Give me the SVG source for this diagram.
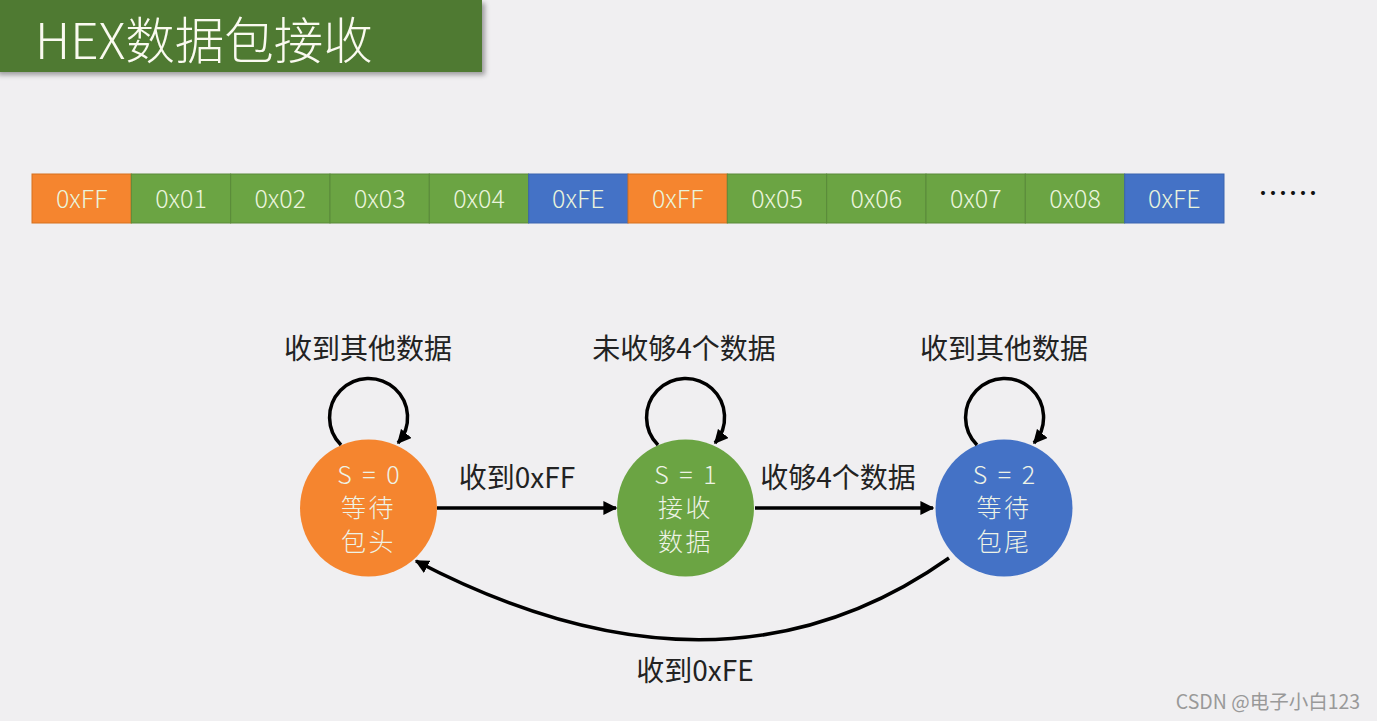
<svg xmlns="http://www.w3.org/2000/svg" width="1377" height="721" viewBox="0 0 1377 721">
<defs>
<style>
.cjk{font-family:"Noto Sans CJK SC","Noto Sans",sans-serif;}
.cell{stroke:#5a8a3a;stroke-width:1}
.ct{font-size:25px;font-weight:300;fill:#EAF4DC;text-anchor:middle;}
.st{font-size:25px;font-weight:300;fill:#EEF3E6;text-anchor:middle;}
.lb{font-size:28px;fill:#222;text-anchor:middle;}
.edge{fill:none;stroke:#000;stroke-width:3.5}
</style>
<marker id="ah" viewBox="0 0 10 10" refX="9" refY="5" markerWidth="4" markerHeight="4" orient="auto" markerUnits="strokeWidth">
<path d="M0,0 L10,5 L0,10 z" fill="#000"/>
</marker>
<filter id="sh" x="-5%" y="-10%" width="115%" height="130%">
<feDropShadow dx="3" dy="3" stdDeviation="2.5" flood-color="#000" flood-opacity="0.35"/>
</filter>
</defs>
<rect width="1377" height="721" fill="#F0EFF1"/>

<g id="title">
<rect x="-5" y="0" width="487" height="72" fill="#507A33" filter="url(#sh)"/>
<text x="35" y="59" class="cjk" font-size="49.5" font-weight="300" fill="#FAFAF0">HEX数据包接收</text>
</g>

<g id="bytes" class="cjk">
<rect x="32" y="174" width="99.3" height="49" fill="#F5852F" stroke="#D6701F"/>
<rect x="131.3" y="174" width="99.3" height="49" fill="#6BA443" class="cell"/>
<rect x="230.7" y="174" width="99.3" height="49" fill="#6BA443" class="cell"/>
<rect x="330" y="174" width="99.3" height="49" fill="#6BA443" class="cell"/>
<rect x="429.3" y="174" width="99.3" height="49" fill="#6BA443" class="cell"/>
<rect x="528.7" y="174" width="99.3" height="49" fill="#4472C6" stroke="#3A64B0"/>
<rect x="628" y="174" width="99.3" height="49" fill="#F5852F" stroke="#D6701F"/>
<rect x="727.3" y="174" width="99.3" height="49" fill="#6BA443" class="cell"/>
<rect x="826.7" y="174" width="99.3" height="49" fill="#6BA443" class="cell"/>
<rect x="926" y="174" width="99.3" height="49" fill="#6BA443" class="cell"/>
<rect x="1025.3" y="174" width="99.3" height="49" fill="#6BA443" class="cell"/>
<rect x="1124.7" y="174" width="99.3" height="49" fill="#4472C6" stroke="#3A64B0"/>
<text x="81.7" y="207.5" class="ct">0xFF</text>
<text x="181" y="207.5" class="ct">0x01</text>
<text x="280.3" y="207.5" class="ct">0x02</text>
<text x="379.7" y="207.5" class="ct">0x03</text>
<text x="479" y="207.5" class="ct">0x04</text>
<text x="578.3" y="207.5" class="ct">0xFE</text>
<text x="677.7" y="207.5" class="ct">0xFF</text>
<text x="777" y="207.5" class="ct">0x05</text>
<text x="876.3" y="207.5" class="ct">0x06</text>
<text x="975.7" y="207.5" class="ct">0x07</text>
<text x="1075" y="207.5" class="ct">0x08</text>
<text x="1174.3" y="207.5" class="ct">0xFE</text>
<text x="1288" y="204" font-size="30" fill="#111" text-anchor="middle">……</text>
</g>

<g id="s0" class="cjk">
<circle cx="368.5" cy="508" r="68.5" fill="#F5852F"/>
<text x="368.5" y="484" class="st" word-spacing="5">S = 0</text>
<text x="368.5" y="517" class="st" letter-spacing="2.5">等待</text>
<text x="368.5" y="551" class="st" letter-spacing="2.5">包头</text>
</g>
<g id="s1" class="cjk">
<circle cx="685.5" cy="508" r="68.5" fill="#6BA443"/>
<text x="685.5" y="484" class="st" word-spacing="5">S = 1</text>
<text x="685.5" y="517" class="st" letter-spacing="2.5">接收</text>
<text x="685.5" y="551" class="st" letter-spacing="2.5">数据</text>
</g>
<g id="s2" class="cjk">
<circle cx="1004" cy="508" r="68.5" fill="#4472C6"/>
<text x="1004" y="484" class="st" word-spacing="5">S = 2</text>
<text x="1004" y="517" class="st" letter-spacing="2.5">等待</text>
<text x="1004" y="551" class="st" letter-spacing="2.5">包尾</text>
</g>

<g id="connectors">
<path class="edge" d="M341,445 A39,39 0 1 1 398,443" marker-end="url(#ah)"/>
<path class="edge" d="M658,445 A39,39 0 1 1 715,443" marker-end="url(#ah)"/>
<path class="edge" d="M977,445 A39,39 0 1 1 1034,443" marker-end="url(#ah)"/>
<path class="edge" d="M437,508 L616,508" marker-end="url(#ah)"/>
<path class="edge" d="M755,508 L933,508" marker-end="url(#ah)"/>
<path class="edge" d="M949,558 Q720,720 416,561" marker-end="url(#ah)"/>
</g>

<g id="labels" class="cjk">
<text x="368" y="359" class="lb">收到其他数据</text>
<text x="684" y="359" class="lb">未收够4个数据</text>
<text x="1004" y="359" class="lb">收到其他数据</text>
<text x="517" y="488" class="lb" font-size="27">收到0xFF</text>
<text x="838" y="488" class="lb">收够4个数据</text>
<text x="695" y="681" class="lb" font-size="27">收到0xFE</text>
</g>

<text x="1268" y="709" class="cjk" font-size="19.5" fill="#999" text-anchor="middle">CSDN @电子小白123</text>
</svg>
